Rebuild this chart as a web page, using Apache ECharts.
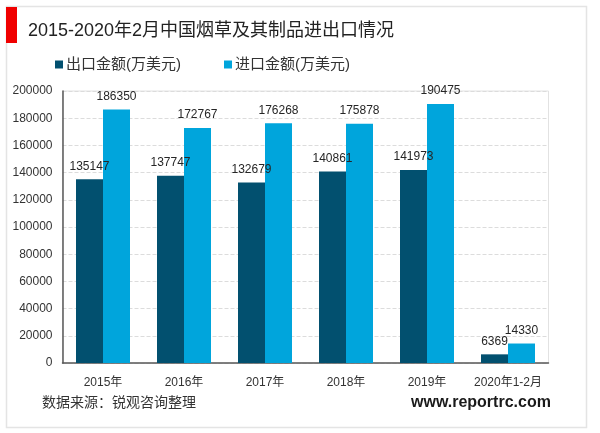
<!DOCTYPE html>
<html>
<head>
  <meta charset="utf-8">
  <title>2015-2020年2月中国烟草及其制品进出口情况</title>
  <script src="https://fastly.jsdelivr.net/npm/echarts@6/dist/echarts.min.js"></script>
  <style>
    html, body { margin: 0; padding: 0; background: #fff; }
  </style>
</head>
<body>
<div id="chart-container" style="width: 600px; height: 433px;"></div>
<script type="text/javascript">
  var chartTitle = '2015-2020年2月中国烟草及其制品进出口情况';
  var sourceText = '数据来源：锐观咨询整理';
  var siteText = 'www.reportrc.com';
  var categories = ['2015年', '2016年', '2017年', '2018年', '2019年', '2020年1-2月'];
  var exportName = '出口金额(万美元)';
  var importName = '进口金额(万美元)';
  var exportValues = [135147, 137747, 132679, 140861, 141973, 6369];
  var importValues = [186350, 172767, 176268, 175878, 190475, 14330];

  var fontName = '"Liberation Sans", "Noto Sans CJK SC", sans-serif';
  var dom = document.getElementById('chart-container');
  var myChart = echarts.init(dom, null, { renderer: 'canvas' });

  var labelStyle = {
    show: true,
    position: 'top',
    distance: 7,
    color: '#262626',
    fontSize: 12,
    fontFamily: fontName
  };

  var option = {
    animation: false,
    backgroundColor: '#fff',
    textStyle: { fontFamily: fontName },
    grid: { left: 62.5, right: 51.5, top: 91, bottom: 70, show: true, borderColor: '#e2e2e2', borderWidth: 1 },
    legend: {
      left: 50,
      top: 52,
      icon: 'rect',
      itemWidth: 8,
      itemHeight: 8,
      itemGap: 43,
      textStyle: { fontSize: 15, color: '#333', fontFamily: fontName, padding: [0, 0, 0, -2] },
      data: [exportName, importName]
    },
    xAxis: {
      type: 'category',
      data: categories,
      axisTick: { show: false },
      axisLine: { lineStyle: { color: '#595959', width: 1.5 } },
      axisLabel: { color: '#333', fontSize: 12, margin: 14, interval: 0 }
    },
    yAxis: {
      type: 'value',
      min: 0,
      max: 200000,
      interval: 20000,
      axisTick: { show: false },
      axisLine: { show: true, lineStyle: { color: '#595959', width: 1.5 } },
      axisLabel: {
        color: '#333',
        fontSize: 12,
        margin: 10,
        formatter: function (value) { return String(value); }
      },
      splitLine: { lineStyle: { color: '#dcdcdc', type: 'dashed' } }
    },
    series: [
      {
        name: exportName,
        type: 'bar',
        data: exportValues,
        barWidth: 27,
        barGap: 0,
        itemStyle: { color: '#02506f' },
        label: labelStyle
      },
      {
        name: importName,
        type: 'bar',
        data: importValues,
        barWidth: 27,
        barGap: 0,
        itemStyle: { color: '#00a5dc' },
        label: labelStyle
      }
    ],
    graphic: [
      { type: 'rect', shape: { x: 6.5, y: 6.5, width: 580, height: 421 }, style: { fill: 'none', stroke: '#e4e4e4', lineWidth: 1.5 }, z: 0 },
      { type: 'rect', shape: { x: 6, y: 7, width: 11, height: 36 }, style: { fill: '#f00000' }, z: 5 },
      { type: 'text', left: 28, top: 22, style: { text: chartTitle, fontSize: 18, fill: '#222', fontFamily: fontName } },
      { type: 'text', left: 42, top: 396, style: { text: sourceText, fontSize: 14, fill: '#333', fontFamily: fontName } },
      { type: 'text', left: 411, top: 395, style: { text: siteText, fontSize: 16, fontWeight: 'bold', fill: '#1a1a1a', fontFamily: '"Liberation Sans", sans-serif' } }
    ]
  };

  myChart.setOption(option);
  window.addEventListener('resize', myChart.resize);
</script>
</body>
</html>
